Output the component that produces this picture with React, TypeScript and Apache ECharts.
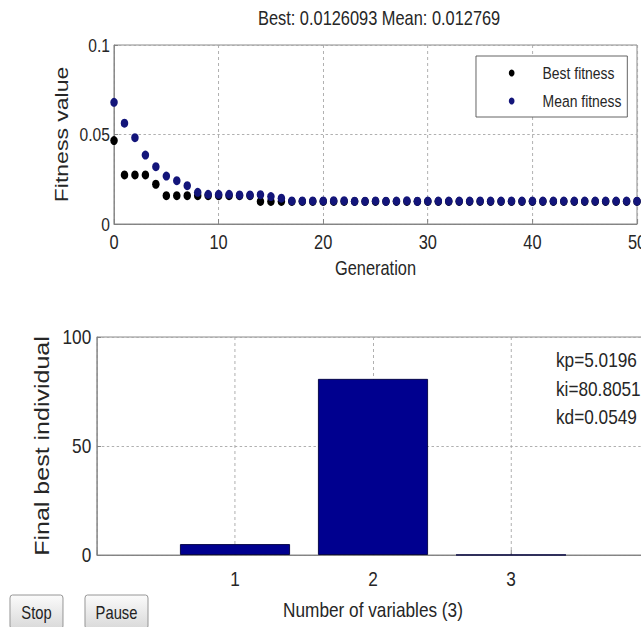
import React, { useEffect, useRef } from "react";
import * as echarts from "echarts";

const generations = [0, 1, 2, 3, 4, 5, 6, 7, 8, 9, 10, 11, 12, 13, 14, 15, 16, 17, 18, 19, 20, 21, 22, 23, 24, 25, 26, 27, 28, 29, 30, 31, 32, 33, 34, 35, 36, 37, 38, 39, 40, 41, 42, 43, 44, 45, 46, 47, 48, 49, 50];
const bestFitness = [0.0466, 0.0274, 0.0274, 0.0274, 0.0222, 0.0158, 0.0158, 0.0158, 0.0158, 0.0158, 0.0158, 0.0158, 0.0158, 0.0158, 0.0126, 0.0126, 0.0126, 0.0126, 0.0126, 0.0126, 0.0126, 0.0126, 0.0126, 0.0126, 0.0126, 0.0126, 0.0126, 0.0126, 0.0126, 0.0126, 0.0126, 0.0126, 0.0126, 0.0126, 0.0126, 0.0126, 0.0126, 0.0126, 0.0126, 0.0126, 0.0126, 0.0126, 0.0126, 0.0126, 0.0126, 0.0126, 0.0126, 0.0126, 0.0126, 0.0126, 0.0126093];
const meanFitness = [0.068, 0.0563, 0.0482, 0.0385, 0.032, 0.0268, 0.0242, 0.0214, 0.0177, 0.0166, 0.0166, 0.0166, 0.0162, 0.0162, 0.0164, 0.0153, 0.0144, 0.0129, 0.0129, 0.0129, 0.0129, 0.013, 0.013, 0.0127, 0.0127, 0.0129, 0.0127, 0.0128, 0.013, 0.0127, 0.0128, 0.0128, 0.0128, 0.0128, 0.0128, 0.0129, 0.0128, 0.0128, 0.0128, 0.0128, 0.0128, 0.0128, 0.0128, 0.0128, 0.0128, 0.0128, 0.0128, 0.0128, 0.0128, 0.0128, 0.012769];

const variableIndex = [1, 2, 3];
const gainNames = ["kp", "ki", "kd"];
const gainValues = [5.0196, 80.8051, 0.0549];
const variableTickLabels = ["1", "2", "3"];

const titleText = "Best: 0.0126093 Mean: 0.012769";
const seriesNames = ["Best fitness", "Mean fitness"];
const buttonLabels = ["Stop", "Pause"];

// The reference is a horizontally squeezed screenshot: the chart is drawn
// wider and squeezed with a CSS scaleX, so every x below is in unscaled units.
const SX = 0.82;
const X = (px: number) => px / SX;

const FONT = '"Liberation Sans", Arial, sans-serif';
const TXT = "#262626";
const AXC = "#7f7f7f";
const GRIDC = "#a8a8a8";

export default function App() {
  const ref = useRef<HTMLDivElement>(null);
  useEffect(() => {
    if (!ref.current) return;
    const chart = echarts.init(ref.current, undefined, { renderer: "svg" });
    const splitLine = { show: true, lineStyle: { color: GRIDC, width: 1, type: [3, 3] as any } };
    const gridBase = {
      show: true,
      borderColor: AXC,
      borderWidth: 1,
      containLabel: false,
      outerBoundsMode: "none",
    } as any;

    const buttons: any[] = [];
    const btnPos = [
      { x: 10, w: 53 },
      { x: 85, w: 63 },
    ];
    buttonLabels.forEach((b, i) => {
      buttons.push({
        type: "group",
        x: X(btnPos[i].x),
        y: 595,
        children: [
          {
            type: "rect",
            shape: { x: 0, y: 0, width: X(btnPos[i].w), height: 34, r: 3 },
            style: {
              fill: new echarts.graphic.LinearGradient(0, 0, 0, 1, [
                { offset: 0, color: "#fbfbfb" },
                { offset: 1, color: "#d9d9d9" },
              ]),
              stroke: "#8c8c8c",
              lineWidth: 1,
            },
          },
          {
            type: "text",
            x: X(btnPos[i].w) / 2,
            y: 17,
            style: {
              text: b,
              fill: "#222",
              font: `18px ${FONT}`,
              align: "center",
              verticalAlign: "middle",
            },
          },
        ],
      });
    });

    const gainTexts = gainNames.map((n, i) => ({
      type: "text",
      x: X(556),
      y: 360 + i * 28.5,
      style: {
        text: `${n}=${gainValues[i]}`,
        fill: TXT,
        font: `21px ${FONT}`,
        align: "left",
        verticalAlign: "middle",
      },
    }));

    const sym = [X(7.5), 9];

    chart.setOption({
      animation: false,
      backgroundColor: "#ffffff",
      title: {
        text: titleText,
        left: X(375),
        top: 3,
        textAlign: "center",
        textStyle: { fontFamily: FONT, fontSize: 20, fontWeight: "normal", color: TXT },
      },
      legend: {
        show: true,
        left: X(476),
        top: 56,
        orient: "vertical",
        data: seriesNames,
        icon: "circle",
        itemWidth: X(6),
        itemHeight: 7,
        itemGap: 8,
        padding: [7, 7, 6, 40],
        borderColor: "#555",
        borderWidth: 1,
        borderRadius: 0,
        backgroundColor: "#fff",
        textStyle: { fontFamily: FONT, fontSize: 17, color: TXT, lineHeight: 20, padding: [0, 0, 0, 29] },
      },
      grid: [
        { ...gridBase, left: X(114), top: 45, width: X(523), height: 179 },
        { ...gridBase, left: X(97), top: 337, width: X(552), height: 218 },
      ],
      xAxis: [
        {
          gridIndex: 0,
          type: "value",
          min: 0,
          max: 50,
          interval: 10,
          name: "Generation",
          nameLocation: "middle",
          nameGap: 34,
          nameTextStyle: { fontFamily: FONT, fontSize: 20, color: TXT },
          axisLine: { show: true, lineStyle: { color: AXC } },
          axisTick: { show: true, inside: true, length: 5, lineStyle: { color: AXC } },
          axisLabel: { fontFamily: FONT, fontSize: 20, color: TXT, margin: 8 },
          splitLine,
        },
        {
          gridIndex: 1,
          type: "value",
          min: 0,
          max: 4,
          interval: 1,
          name: "Number of variables (3)",
          nameLocation: "middle",
          nameGap: 44,
          nameTextStyle: { fontFamily: FONT, fontSize: 21, color: TXT },
          axisLine: { show: true, lineStyle: { color: AXC } },
          axisTick: { show: true, inside: true, length: 5, lineStyle: { color: AXC } },
          axisLabel: {
            fontFamily: FONT,
            fontSize: 21,
            color: TXT,
            margin: 13,
            formatter: (v: number) => variableTickLabels[variableIndex.indexOf(v)] ?? "",
          },
          splitLine,
        },
      ],
      yAxis: [
        {
          gridIndex: 0,
          type: "value",
          min: 0,
          max: 0.1,
          interval: 0.05,
          name: "Fitness value",
          nameLocation: "middle",
          nameRotate: 90,
          nameGap: X(42),
          nameTextStyle: { fontFamily: FONT, fontSize: 23, color: TXT },
          axisLine: { show: true, lineStyle: { color: AXC } },
          axisTick: { show: true, inside: true, length: 5, lineStyle: { color: AXC } },
          axisLabel: { fontFamily: FONT, fontSize: 19, color: TXT, margin: 5 },
          splitLine,
        },
        {
          gridIndex: 1,
          type: "value",
          min: 0,
          max: 100,
          interval: 50,
          name: "Final best individual",
          nameLocation: "middle",
          nameRotate: 90,
          nameGap: X(45),
          nameTextStyle: { fontFamily: FONT, fontSize: 25, color: TXT },
          axisLine: { show: true, lineStyle: { color: AXC } },
          axisTick: { show: true, inside: true, length: 5, lineStyle: { color: AXC } },
          axisLabel: { fontFamily: FONT, fontSize: 21, color: TXT, margin: 7 },
          splitLine,
        },
      ],
      series: [
        {
          name: seriesNames[0],
          type: "scatter",
          xAxisIndex: 0,
          yAxisIndex: 0,
          symbol: "circle",
          symbolSize: sym,
          itemStyle: { color: "#000000", opacity: 1 },
          data: generations.map((g, i) => [g, bestFitness[i]]),
          clip: false,
        },
        {
          name: seriesNames[1],
          type: "scatter",
          xAxisIndex: 0,
          yAxisIndex: 0,
          symbol: "circle",
          symbolSize: sym,
          itemStyle: { color: "#13157a", opacity: 1 },
          data: generations.map((g, i) => [g, meanFitness[i]]),
          clip: false,
        },
        {
          name: "Final best individual",
          type: "bar",
          xAxisIndex: 1,
          yAxisIndex: 1,
          barWidth: X(110),
          itemStyle: { color: "#00008f", borderColor: "#000040", borderWidth: 1 },
          data: variableIndex.map((v, i) => [v, gainValues[i]]),
        },
      ],
      graphic: [...gainTexts, ...buttons],
    });
    return () => chart.dispose();
  }, []);

  return (
    <div style={{ position: "fixed", left: 0, top: 0, width: 641, height: 627, overflow: "hidden", background: "#fff" }}>
      <div
        ref={ref}
        style={{ width: 800, height: 627, transform: `scaleX(${SX})`, transformOrigin: "0 0" }}
      />
    </div>
  );
}
